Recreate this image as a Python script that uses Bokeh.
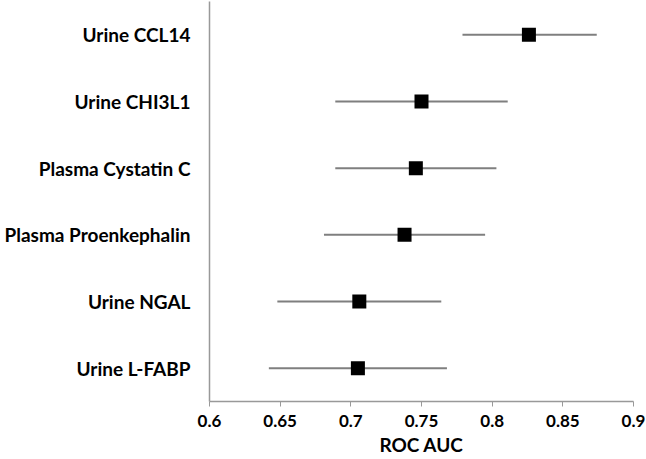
from bokeh.plotting import figure
from bokeh.models import ColumnDataSource, FixedTicker, Range1d
from bokeh.embed import file_html
from bokeh.resources import INLINE

# Data (top to bottom as shown)
biomarkers = ["Urine CCL14", "Urine CHI3L1", "Plasma Cystatin C",
              "Plasma Proenkephalin", "Urine NGAL", "Urine L-FABP"]
auc = [0.826, 0.750, 0.746, 0.738, 0.706, 0.705]
ci_low = [0.779, 0.689, 0.689, 0.681, 0.648, 0.642]
ci_high = [0.874, 0.811, 0.803, 0.795, 0.764, 0.768]

x_ticks = [0.6, 0.65, 0.7, 0.75, 0.8, 0.85, 0.9]
x_tick_labels = ["0.6", "0.65", "0.7", "0.75", "0.8", "0.85", "0.9"]

n = len(biomarkers)
ypos = [n - i for i in range(n)]

src = ColumnDataSource(dict(y=ypos, auc=auc, lo=ci_low, hi=ci_high, name=biomarkers))

FONT = "Lato"

p = figure(width=646, height=459, output_backend="svg", toolbar_location=None,
           x_range=Range1d(0.6, 0.9), y_range=Range1d(0.5, 6.5),
           min_border_left=209, min_border_right=13, min_border_top=1,
           min_border_bottom=58)
p.outline_line_color = None
p.xgrid.visible = False
p.ygrid.visible = False
p.background_fill_color = "white"
p.border_fill_color = "white"

p.segment(x0="lo", y0="y", x1="hi", y1="y", source=src,
          line_color="#7f7f7f", line_width=2)
p.scatter(x="auc", y="y", source=src, marker="square", size=14,
          fill_color="black", line_color="black", line_width=0)

# x axis
xa = p.xaxis[0]
xa.ticker = FixedTicker(ticks=x_ticks)
xa.major_label_overrides = {t: l for t, l in zip(x_ticks, x_tick_labels)}
xa.minor_tick_line_color = None
xa.major_tick_in = 0
xa.major_tick_out = 5
xa.axis_line_color = "#999999"
xa.major_tick_line_color = "#999999"
xa.axis_line_width = 1.5
xa.major_label_text_font = FONT
xa.major_label_text_font_style = "bold"
xa.major_label_text_font_size = "17px"
xa.major_label_text_color = "black"
xa.major_label_standoff = 8
xa.axis_label = "ROC AUC"
xa.axis_label_text_font = FONT
xa.axis_label_text_font_style = "bold"
xa.axis_label_text_font_size = "19px"
xa.axis_label_text_color = "black"
xa.axis_label_standoff = 3

# y axis
ya = p.yaxis[0]
ya.ticker = FixedTicker(ticks=ypos)
ya.major_label_overrides = {y: name for y, name in zip(ypos, biomarkers)}
ya.minor_tick_line_color = None
ya.major_tick_line_color = None
ya.major_tick_in = 0
ya.major_tick_out = 0
ya.axis_line_color = "#999999"
ya.axis_line_width = 1.5
ya.major_label_text_font = FONT
ya.major_label_text_font_style = "bold"
ya.major_label_text_font_size = "19px"
ya.major_label_text_color = "black"
ya.major_label_standoff = 19

open("out.html", "w").write(file_html(p, INLINE))
